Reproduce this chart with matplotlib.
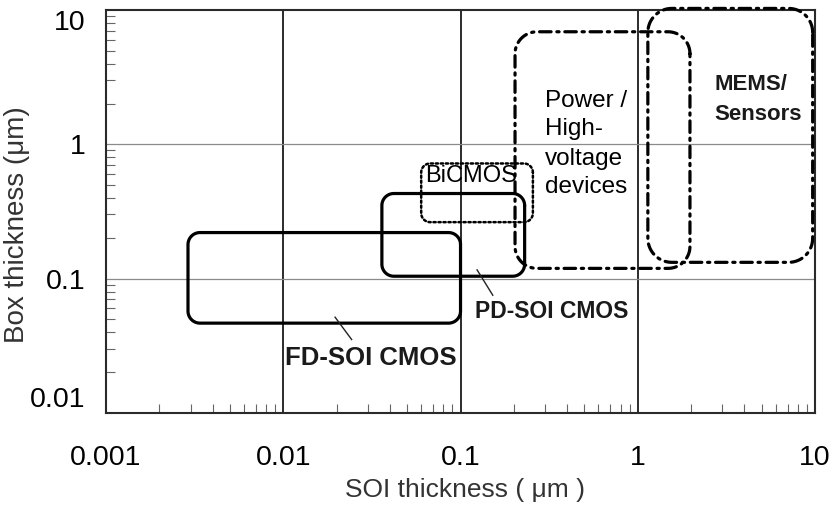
import numpy as np
import matplotlib
matplotlib.use("Agg")
import matplotlib.pyplot as plt
from matplotlib.ticker import FixedLocator, LogLocator, NullFormatter

plt.rcParams["font.family"] = ["Liberation Sans", "DejaVu Sans"]

# Application regions: SOI thickness range (x) and BOX thickness range (y), in um
regions = ["FD-SOI CMOS", "PD-SOI CMOS", "BiCMOS", "Power / High-voltage devices", "MEMS/Sensors"]
soi_lo = [0.0029, 0.036, 0.060, 0.203, 1.14]
soi_hi = [0.100, 0.23, 0.256, 1.97, 9.7]
box_lo = [0.0465, 0.104, 0.263, 0.119, 0.132]
box_hi = [0.22, 0.43, 0.72, 6.9, 10.3]

x_ticks = [0.001, 0.01, 0.1, 1, 10]
x_tick_labels = ["0.001", "0.01", "0.1", "1", "10"]
y_ticks = [0.01, 0.1, 1, 10]
y_tick_labels = ["0.01", "0.1", "1", "10"]

# drawing style per region
styles = [
    dict(color="black", lw=2.3, ls="-", r=12),
    dict(color="black", lw=2.3, ls="-", r=12),
    dict(color="black", lw=1.8, ls=(0, (0.9, 1.1)), r=9),
    dict(color="black", lw=2.3, ls=(0, (3.6, 1.8, 0.7, 1.8)), r=22),
    dict(color="black", lw=2.3, ls=(0, (3.6, 1.8, 0.7, 1.8)), r=24),
]

W, H, DPI = 8.33, 5.07, 100
AX_RECT = [0.1273, 0.186, 0.8511, 0.794]

fig = plt.figure(figsize=(W, H), dpi=DPI)
ax = fig.add_axes(AX_RECT)
ax.set_xscale("log")
ax.set_yscale("log")
ax.set_xlim(0.001, 10)
ax.set_ylim(0.01, 10)

# pixels per decade, used to make round corners look circular
px_dec_x = W * DPI * AX_RECT[2] / 4.0
px_dec_y = H * DPI * AX_RECT[3] / 3.0


def rounded_box(x0, x1, y0, y1, r_px, n=20):
    lx0, lx1, ly0, ly1 = np.log10([x0, x1, y0, y1])
    rx = r_px / px_dec_x
    ry = r_px / px_dec_y
    centers = [(lx1 - rx, ly1 - ry, 0), (lx0 + rx, ly1 - ry, 90),
               (lx0 + rx, ly0 + ry, 180), (lx1 - rx, ly0 + ry, 270)]
    xs, ys = [], []
    for cx, cy, a0 in centers:
        t = np.radians(np.linspace(a0, a0 + 90, n))
        xs.extend(cx + rx * np.cos(t))
        ys.extend(cy + ry * np.sin(t))
    xs.append(xs[0])
    ys.append(ys[0])
    return 10 ** np.array(xs), 10 ** np.array(ys)


# grid: dark vertical decade lines, light horizontal ones
for xv in x_ticks[1:-1]:
    ax.axvline(xv, color="#1a1a1a", lw=1.3, zorder=1)
for yv in y_ticks[1:-1]:
    ax.axhline(yv, color="#8a8a8a", lw=0.9, zorder=1)

for i, name in enumerate(regions):
    st = styles[i]
    bx, by = rounded_box(soi_lo[i], soi_hi[i], box_lo[i], box_hi[i], st["r"])
    ax.plot(bx, by, color=st["color"], lw=st["lw"], ls=st["ls"],
            solid_capstyle="round", dash_capstyle="round", zorder=3,
            clip_on=False)

# labels
ax.text(0.01023, 0.0226, "FD-SOI CMOS", fontsize=18.5, fontweight="bold",
        color="#1a1a1a", ha="left", va="baseline", zorder=4)
ax.plot([0.0196, 0.0243], [0.0515, 0.0351], color="#222222", lw=1.0, zorder=4)
ax.text(0.1205, 0.0507, "PD-SOI CMOS", fontsize=16.5, fontweight="bold",
        color="#1a1a1a", ha="left", va="baseline", zorder=4)
ax.plot([0.124, 0.152], [0.116, 0.0751], color="#222222", lw=1.0, zorder=4)
ax.text(0.063, 0.522, "BiCMOS", fontsize=17, color="black",
        ha="left", va="baseline", zorder=4)

power_lines = ["Power /", "High-", "voltage", "devices"]
power_y = [1.89, 1.17, 0.70, 0.433]
for s, yv in zip(power_lines, power_y):
    ax.text(0.299, yv, s, fontsize=17.5, color="black", ha="left",
            va="baseline", zorder=4)

mems_lines = ["MEMS/", "Sensors"]
mems_y = [2.56, 1.53]
for s, yv in zip(mems_lines, mems_y):
    ax.text(2.72, yv, s, fontsize=16, fontweight="bold", color="#1a1a1a",
            ha="left", va="baseline", zorder=4)

# ticks
ax.xaxis.set_major_locator(FixedLocator(x_ticks))
ax.yaxis.set_major_locator(FixedLocator(y_ticks))
ax.set_xticklabels(x_tick_labels)
ax.set_yticklabels(y_tick_labels)
ax.xaxis.set_minor_locator(LogLocator(base=10, subs=np.arange(2, 10)))
ax.yaxis.set_minor_locator(LogLocator(base=10, subs=np.arange(2, 10)))
ax.xaxis.set_minor_formatter(NullFormatter())
ax.yaxis.set_minor_formatter(NullFormatter())
ax.tick_params(which="major", length=0, labelsize=20.5, colors="black")
ax.tick_params(axis="x", which="major", pad=23)
ax.tick_params(axis="y", which="major", pad=15)
ax.tick_params(which="minor", direction="in", length=6.5, width=0.8,
               color="#666666")
ylabels = ax.get_yticklabels()
ylabels[0].set_va("bottom")
ylabels[-1].set_va("top")

for sp in ax.spines.values():
    sp.set_color("#2a2a2a")
    sp.set_linewidth(1.5)

ax.set_xlabel("SOI thickness ( μm )", fontsize=19, color="#333333", va="center")
ax.set_ylabel("Box thickness (μm)", fontsize=20, color="#333333", va="center")
ax.xaxis.set_label_coords(0.506, -0.192)
ax.yaxis.set_label_coords(-0.1255, 0.466)

fig.savefig("out.png", dpi=DPI)
